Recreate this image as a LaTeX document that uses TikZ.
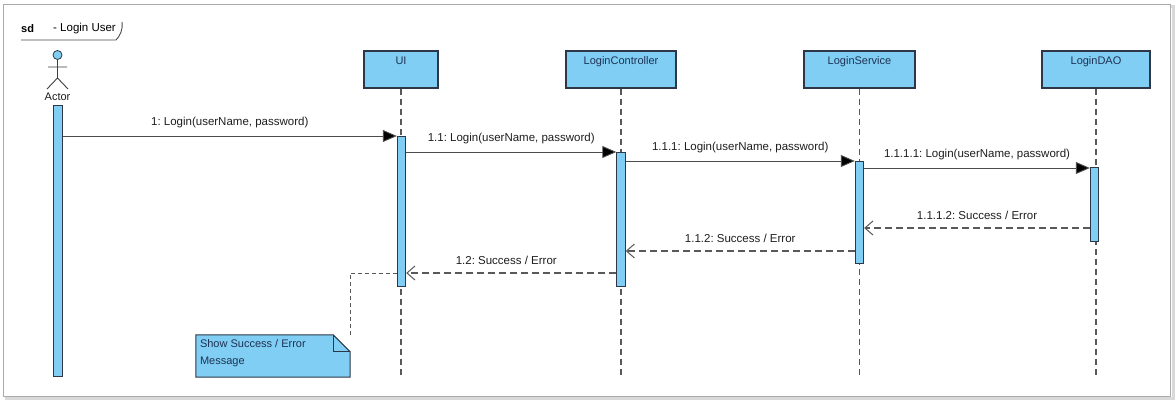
\documentclass[tikz,border=0pt]{standalone}
\usepackage{fontspec}
\setmainfont{Liberation Sans}
\usetikzlibrary{arrows.meta,calc}
\definecolor{boxfill}{RGB}{128,206,243}
\definecolor{boxline}{RGB}{45,55,72}
\definecolor{boxtext}{RGB}{30,50,85}
\definecolor{msgtext}{RGB}{30,30,30}
\definecolor{frameg}{RGB}{170,170,170}
\frenchspacing
\tikzset{
  head/.style={draw=boxline, fill=boxfill, line width=1.1pt, minimum height=37pt, inner sep=0pt},
  headlabel/.style={anchor=north, inner sep=0pt, yshift=-6pt, text=boxtext, font=\fontsize{11}{12}\selectfont},
  act/.style={draw=boxline, fill=boxfill, line width=0.9pt, minimum width=8.5pt, inner sep=0pt, anchor=north},
  life/.style={draw=black!65, line width=1.2pt, dash pattern=on 6pt off 4pt},
  call/.style={draw=black!70, line width=0.9pt, -{Triangle[length=14pt,width=12pt,fill=black]}},
  ret/.style={draw=black!65, line width=1.1pt, dash pattern=on 7pt off 4pt, -{Straight Barb[length=8pt,width=14pt,line width=1pt]}},
  notelink/.style={draw=black!65, line width=0.9pt, dash pattern=on 4pt off 3pt},
  lbl/.style={text=msgtext, font=\fontsize{11.5}{13}\selectfont, inner sep=0pt},
}
\begin{document}
\begin{tikzpicture}[x=1pt,y=-1pt]
\useasboundingbox (0,0) rectangle (1176,403);
% outer frame with shadow
\draw[draw=black!15, line width=3pt] (6,7) rectangle (1173,399);
\draw[draw=frameg, line width=1.2pt, fill=white] (3.5,4.5) rectangle (1170.5,396.5);

% sd tag
\node[anchor=west, inner sep=0pt, font=\fontsize{11}{13}\selectfont\bfseries] (sdl) at (21,29) {sd};
\node[anchor=west, inner sep=0pt, font=\fontsize{11.5}{13}\selectfont] (sdt) at (53,29) {- Login User};
\draw[black!70, line width=0.9pt] (21,40) -- (116,40) .. controls (120,36) and (123,30) .. (122,22);

% lifeline heads
\node[head, minimum width=74pt] (hUI) at (401,69.5) {};
\node[headlabel] at (hUI.north) {UI};
\node[head, minimum width=110pt] (hCtrl) at (621,69.5) {};
\node[headlabel] at (hCtrl.north) {LoginController};
\node[head, minimum width=111pt] (hSvc) at (859.5,69.5) {};
\node[headlabel] at (hSvc.north) {LoginService};
\node[head, minimum width=108pt] (hDAO) at (1096,69.5) {};
\node[headlabel] at (hDAO.north) {LoginDAO};

% actor
\draw[draw=boxline, fill=boxfill, line width=0.8pt] (57.5,55) circle (4.5pt);
\draw[black!75, line width=0.9pt] (57.5,59.5) -- (57.5,78) (48,67) -- (67,67) (47,89) -- (57.5,78) -- (68,89);
\node[lbl, font=\fontsize{11}{12}\selectfont] (actor) at (57.5,97) {Actor};

% lifelines
\coordinate (yend) at (0,377);
\draw[life] (hUI.south) -- (hUI.south |- yend);
\draw[life] (hCtrl.south) -- (hCtrl.south |- yend);
\draw[life] (hSvc.south) -- (hSvc.south |- yend);
\draw[life] (hDAO.south) -- (hDAO.south |- yend);

% activations
\node[act, minimum height=271pt] (aAct) at (58,105) {};
\node[act, minimum height=150pt] (aUI) at (401.5,136) {};
\node[act, minimum height=134pt] (aCtrl) at (621,152) {};
\node[act, minimum height=102pt] (aSvc) at (859.5,161) {};
\node[act, minimum height=74pt] (aDAO) at (1094.5,167) {};

% messages
\coordinate (y1) at (0,136);
\coordinate (y2) at (0,152);
\coordinate (y3) at (0,161);
\coordinate (y4) at (0,168);
\coordinate (y5) at (0,228);
\coordinate (y6) at (0,251);
\coordinate (y7) at (0,273);

\draw[call] (aAct.east |- y1) -- node[lbl, above=8pt] {1: Login(userName, password)} (aUI.west |- y1);
\draw[call] (aUI.east |- y2) -- node[lbl, above=8pt] {1.1: Login(userName, password)} (aCtrl.west |- y2);
\draw[call] (aCtrl.east |- y3) -- node[lbl, above=8pt] {1.1.1: Login(userName, password)} (aSvc.west |- y3);
\draw[call] (aSvc.east |- y4) -- node[lbl, above=8pt] {1.1.1.1: Login(userName, password)} (aDAO.west |- y4);
\draw[ret] (aDAO.west |- y5) -- node[lbl, above=8pt] {1.1.1.2: Success / Error} (aSvc.east |- y5);
\draw[ret] (aSvc.west |- y6) -- node[lbl, above=8pt] {1.1.2: Success / Error} (aCtrl.east |- y6);
\draw[ret] (aCtrl.west |- y7) -- node[lbl, above=8pt, xshift=-5pt] {1.2: Success / Error} (aUI.east |- y7);

% note
\node[minimum width=154pt, minimum height=42pt, inner sep=0pt] (note) at (273,356) {};
\draw[draw=boxline, fill=boxfill, line width=1pt]
  (note.south west) -- (note.north west) -- ($(note.north east)+(-17,0)$) -- ($(note.north east)+(0,17)$) -- (note.south east) -- cycle;
\draw[draw=boxline, line width=0.8pt] ($(note.north east)+(-17,0)$) -- ($(note.north east)+(-17,17)$) -- ($(note.north east)+(0,17)$);
\node[anchor=north west, align=left, inner sep=0pt, text=boxtext, font=\fontsize{11}{17}\selectfont] (notetext) at ($(note.north west)+(4,5)$) {Show Success / Error\\Message};
\draw[notelink] (note.north east) |- (aUI.west |- y7);
\end{tikzpicture}
\end{document}
